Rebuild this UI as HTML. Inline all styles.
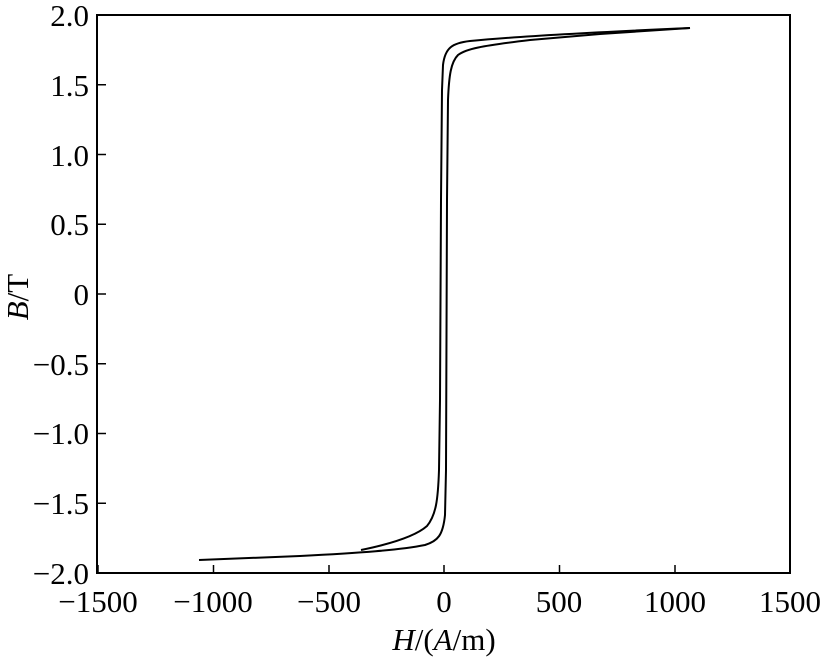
<!DOCTYPE html>
<html><head><meta charset="utf-8"><style>
html,body{margin:0;padding:0;background:#fff;}
svg{display:block;}
text{font-family:"Liberation Serif",serif;font-size:31px;fill:#000;}
</style></head><body>
<svg width="825" height="660" viewBox="0 0 825 660">
<rect x="97" y="15" width="693" height="558" fill="none" stroke="#000" stroke-width="2"/>
<g stroke="#000" stroke-width="1.5">
<line x1="98" y1="573" x2="98" y2="565"/>
<line x1="213.5" y1="573" x2="213.5" y2="565"/>
<line x1="329" y1="573" x2="329" y2="565"/>
<line x1="444" y1="573" x2="444" y2="565"/>
<line x1="559.5" y1="573" x2="559.5" y2="565"/>
<line x1="675" y1="573" x2="675" y2="565"/>
<line x1="97" y1="84.75" x2="106" y2="84.75"/>
<line x1="97" y1="154.5" x2="106" y2="154.5"/>
<line x1="97" y1="224.25" x2="106" y2="224.25"/>
<line x1="97" y1="294" x2="106" y2="294"/>
<line x1="97" y1="363.75" x2="106" y2="363.75"/>
<line x1="97" y1="433.5" x2="106" y2="433.5"/>
<line x1="97" y1="503.25" x2="106" y2="503.25"/>
</g>
<g text-anchor="end">
<text x="89" y="26">2.0</text>
<text x="89" y="96">1.5</text>
<text x="89" y="166">1.0</text>
<text x="89" y="235">0.5</text>
<text x="89" y="305">0</text>
<text x="89" y="375">−0.5</text>
<text x="89" y="444">−1.0</text>
<text x="89" y="514">−1.5</text>
<text x="89" y="584">−2.0</text>
</g>
<g text-anchor="middle">
<text x="98" y="612">−1500</text>
<text x="213" y="612">−1000</text>
<text x="329" y="612">−500</text>
<text x="444" y="612">0</text>
<text x="559" y="612">500</text>
<text x="675" y="612">1000</text>
<text x="790" y="612">1500</text>
<text x="444" y="650"><tspan font-style="italic">H</tspan>/(<tspan font-style="italic">A</tspan>/m)</text>
<text transform="translate(28,297) rotate(-90)"><tspan font-style="italic">B</tspan>/T</text>
</g>
<g fill="none" stroke="#000" stroke-width="2" stroke-linejoin="round">
<path d="M690,28 C600,32 520,36 470,41 C452,43 445,48 443,65 L442,90 L441,200 L440,400 L439,470 C438,500 436,515 427,526 C418,534 400,542 361,550"/>
<path d="M199,560 L300,556 C360,553 400,550 425,545 C438,541 443,535 445,515 L446,470 L447,200 L448,100 C449,75 451,62 458,55 C466,49 480,46 530,40 L600,34 L690,28"/>
</g>
</svg>
</body></html>
